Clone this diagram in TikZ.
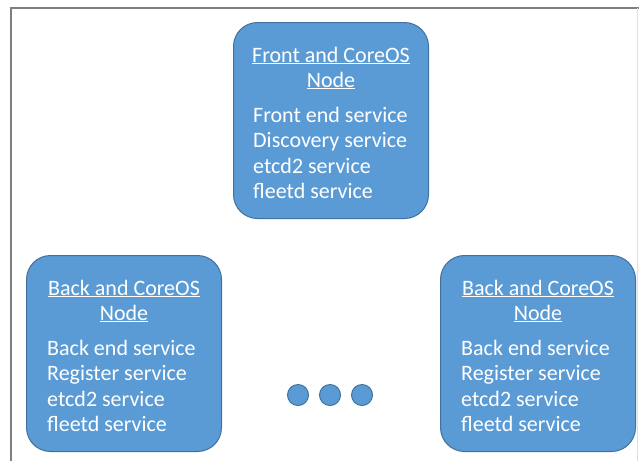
\documentclass[tikz,border=0pt]{standalone}
\usepackage{fontspec}
\setmainfont{Carlito}
\definecolor{boxfill}{HTML}{5B9BD5}
\definecolor{boxline}{HTML}{41719C}
\definecolor{frameline}{HTML}{7F7F7F}
\tikzset{
    hostbox/.style={draw=boxline, fill=boxfill, line width=1pt, rounded corners=24pt,
        minimum width=195pt, minimum height=196pt, anchor=north west, inner sep=0pt},
    hosttext/.style={text=white, font=\fontsize{22}{25}\selectfont, inner sep=0pt},
    dot/.style={circle, draw=boxline, fill=boxfill, line width=1pt, minimum size=21pt, inner sep=0pt}
}
\begin{document}
\begin{tikzpicture}[x=1pt, y=-1pt]
    \useasboundingbox (0,0) rectangle (639,461);

    % frame
    \draw[frameline, line width=1.5pt] (11,461) -- (11,8) -- (639,8);
    \draw[gray!25, line width=0.8pt] (637,8) -- (637,461);

    % front node
    \node[hostbox] (front) at (233,22) {};
    \node[hosttext, anchor=base] (front-t1) at ([yshift=-40pt]front.north) {\underline{Front and CoreOS}};
    \node[hosttext, anchor=base] (front-t2) at ([yshift=-65pt]front.north) {\underline{Node}};
    \foreach[count=\i] \svc in {Front end service, Discovery service, etcd2 service, fleetd service}
        \node[hosttext, anchor=base west] (front-s\i) at ([xshift=20pt, yshift={-75.2-25.3*\i}]front.north west) {\svc};

    % back nodes
    \foreach \nm/\x in {backl/26, backr/440} {
        \node[hostbox] (\nm) at (\x,255) {};
        \node[hosttext, anchor=base] (\nm-t1) at ([yshift=-40pt]\nm.north) {\underline{Back and CoreOS}};
        \node[hosttext, anchor=base] (\nm-t2) at ([yshift=-65pt]\nm.north) {\underline{Node}};
        \foreach[count=\i] \svc in {Back end service, Register service, etcd2 service, fleetd service}
            \node[hosttext, anchor=base west] (\nm-s\i) at ([xshift=21pt, yshift={-75.2-25.3*\i}]\nm.north west) {\svc};
    }

    % more nodes
    \foreach \i/\x in {1/298, 2/330, 3/362}
        \node[dot] (dot\i) at (\x,395) {};
\end{tikzpicture}
\end{document}
